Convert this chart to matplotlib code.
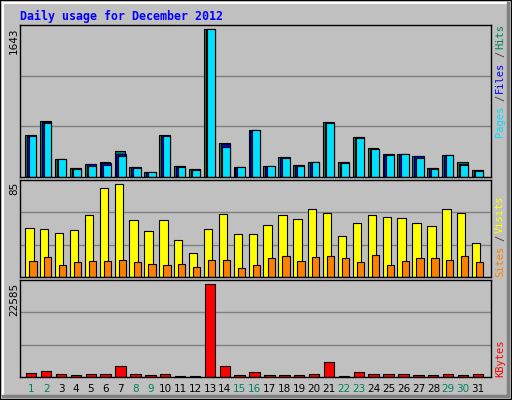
import matplotlib
matplotlib.use("Agg")
import matplotlib.pyplot as plt
from matplotlib.patches import Rectangle
from matplotlib.lines import Line2D

days = list(range(1, 32))
hits = [472,628,204,104,149,171,294,115,59,472,126,93,1643,383,115,528,126,227,138,171,617,171,450,327,260,260,238,104,249,171,82]
files = [461,617,204,100,140,160,260,110,59,461,120,90,1643,372,115,528,126,227,130,171,606,165,450,316,255,260,235,100,249,150,78]
pages = [461,606,204,93,126,138,238,104,59,461,115,82,1643,338,115,528,126,216,126,171,606,160,439,316,249,260,216,93,249,138,71]
visits = [45,44,40,43,57,82,85,52,42,52,34,22,44,58,39,39,48,57,53,62,59,38,50,57,55,54,50,47,62,59,31]
sites = [15,18,11,14,15,15,16,14,12,11,12,9,16,16,8,11,17,19,15,18,19,17,14,20,11,15,17,17,16,19,14]
kbytes = [1070,1566,824,577,824,824,2802,824,577,824,330,330,22585,2802,577,1318,577,577,577,824,3543,330,1318,824,824,824,577,577,824,577,824]
weekend = {1,2,8,9,15,16,22,23,29,30}

BG = "#C0C0C0"
GREEN = "#00805C"; BLUE = "#0000FF"; CYAN = "#00E0FF"
YEL = "#FFFF00"; ORG = "#FF8000"; RED = "#FF0000"
MONO = "DejaVu Sans Mono"

fig = plt.figure(figsize=(5.12, 4.0), dpi=100, facecolor=BG)
fig.patches.append(Rectangle((0, 0), 1, 1, transform=fig.transFigure, fill=False, ec="black", lw=1.5))
fig.add_artist(Line2D([3/512, 3/512], [4/400, 1-3/400], color="white", lw=1.5, transform=fig.transFigure))
fig.add_artist(Line2D([3/512, 1-4/512], [1-3/400, 1-3/400], color="white", lw=1.5, transform=fig.transFigure))
fig.add_artist(Line2D([1-4/512, 1-4/512], [4/400, 1-3/400], color="#808080", lw=2.5, transform=fig.transFigure))
fig.add_artist(Line2D([3/512, 1-4/512], [4/400, 4/400], color="#808080", lw=2.5, transform=fig.transFigure))

L = 20/512; W = 471/512
def mkax(top, bot):
    ax = fig.add_axes([L, 1-bot/400, W, (bot-top)/400])
    ax.set_facecolor(BG)
    ax.set_xlim(0.107, 31.74)
    ax.set_xticks([])
    for s in ax.spines.values():
        s.set_color("black"); s.set_linewidth(1)
    return ax

def grid(ax, top):
    ax.set_ylim(0, top)
    ax.set_yticks([top/3, 2*top/3])
    ax.tick_params(axis="y", length=0, labelleft=False)
    ax.yaxis.grid(True, color="#808080", lw=1)
    ax.set_axisbelow(True)

x = [d for d in days]
ax1 = mkax(25, 177)
grid(ax1, max(hits)/0.972)
kw = dict(align="edge", edgecolor="black", linewidth=0.8)
ax1.bar([d-0.54 for d in x], hits, width=0.72, color=GREEN, **kw)
ax1.bar([d-0.42 for d in x], files, width=0.63, color=BLUE, **kw)
ax1.bar([d-0.31 for d in x], pages, width=0.52, color=CYAN, **kw)

ax2 = mkax(180, 277)
grid(ax2, max(visits)/0.955)
ax2.bar([d-0.54 for d in x], visits, width=0.56, color=YEL, **kw)
ax2.bar([d-0.27 for d in x], sites, width=0.49, color=ORG, **kw)

ax3 = mkax(280, 377)
grid(ax3, max(kbytes)/0.955)
ax3.bar([d-0.49 for d in x], kbytes, width=0.70, color=RED, **kw)
for d in days:
    ax3.text(d-0.13, -0.12, str(d), transform=ax3.get_xaxis_transform(), ha="center", va="center",
             fontsize=7.5, family="DejaVu Sans", color=GREEN if d in weekend else "black")

fig.text(20/512, 1-16/400, "Daily usage for December 2012", color=BLUE, family=MONO,
         fontweight="bold", fontsize=8.4, va="center")
fig.text(14/512, 1-27/400, str(max(hits)), rotation=90, va="top", ha="center", fontsize=7.5, family="DejaVu Sans")
fig.text(14/512, 1-182/400, str(max(visits)), rotation=90, va="top", ha="center", fontsize=7.5, family="DejaVu Sans")
fig.text(14/512, 1-283/400, str(max(kbytes)), rotation=90, va="top", ha="center", fontsize=7.5, family="DejaVu Sans")

def rlabel(parts, ybottom):
    y = ybottom
    for txt, col in parts:
        fig.text(500/512, 1-y/400, txt, rotation=90, color=col, family=MONO, fontsize=7.5,
                 ha="center", va="bottom")
        y -= 7.0*len(txt) + 1
rlabel([("Pages", CYAN), ("/", "#404040"), ("Files", BLUE), ("/", "#404040"), ("Hits", GREEN)], 137)
rlabel([("Sites", ORG), ("/", "#404040"), ("Visits", YEL)], 277)
rlabel([("KBytes", RED)], 377)

fig.savefig("out.png", dpi=100, facecolor=BG)
